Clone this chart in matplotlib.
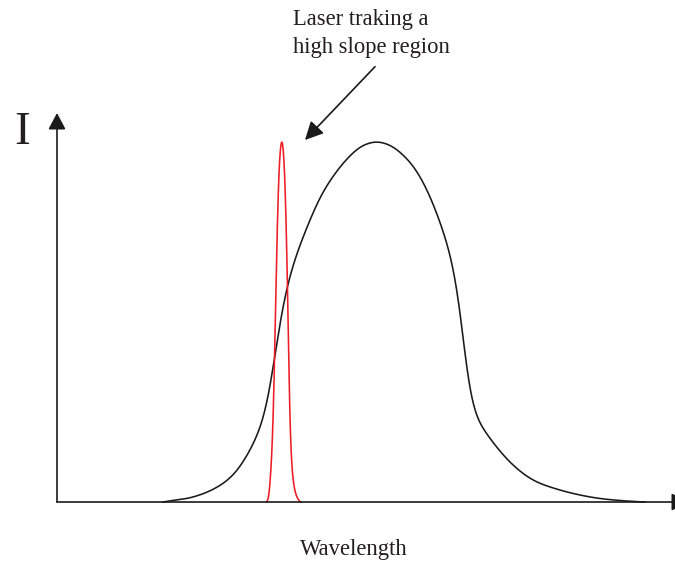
import numpy as np
import matplotlib
matplotlib.use("Agg")
import matplotlib.pyplot as plt
from matplotlib.patches import FancyArrowPatch

# ---- data (arbitrary units) ----
broad_x = [163, 170, 185, 200, 216.7, 233.3, 246.7, 256.7, 265, 270, 273.5, 278.3, 283.3,
           287.3, 295, 303.3, 320, 330, 350, 363.3, 376.7, 390, 403.3, 415, 430, 443.3,
           451.7, 456.7, 460.7, 463.3, 465.2, 468.3, 475, 486.7, 496.7, 510, 520, 535,
           553.3, 580, 600, 620, 645]
broad_I = [0, 1.2, 3.2, 7.2, 14.7, 27.5, 46.5, 67, 91, 114, 137, 170, 197,
           215, 242, 265, 304, 321, 346, 356.5, 360, 356.5, 346.5, 333, 305, 269,
           239, 215, 189, 165, 142, 119, 92, 69, 55, 40, 31, 21,
           14, 7, 3.5, 1.5, 0]

laser_x = [266.5, 268.5, 270, 273, 275.5, 278, 280, 281.8, 283.6, 285.5, 288, 290,
           293.5, 297, 301]
laser_I = [0, 5, 20, 80, 190, 300, 347, 360, 347, 300, 190, 80,
           20, 5, 0]

annotation = "Laser traking a\nhigh slope region"
xlabel = "Wavelength"
ylabel = "I"


def pchip(x, y, xs):
    x = np.asarray(x, float)
    y = np.asarray(y, float)
    h = np.diff(x)
    delta = np.diff(y) / h
    n = len(x)
    d = np.zeros(n)
    for k in range(1, n - 1):
        if delta[k - 1] * delta[k] > 0:
            w1 = 2 * h[k] + h[k - 1]
            w2 = h[k] + 2 * h[k - 1]
            d[k] = (w1 + w2) / (w1 / delta[k - 1] + w2 / delta[k])
    for (i, a, b, ha, hb) in [(0, delta[0], delta[1], h[0], h[1]),
                              (n - 1, delta[-1], delta[-2], h[-1], h[-2])]:
        v = ((2 * ha + hb) * a - ha * b) / (ha + hb)
        if np.sign(v) != np.sign(a):
            v = 0
        elif np.sign(a) != np.sign(b) and abs(v) > abs(3 * a):
            v = 3 * a
        d[i] = v
    idx = np.clip(np.searchsorted(x, xs) - 1, 0, n - 2)
    t = (xs - x[idx]) / h[idx]
    h00 = 2 * t ** 3 - 3 * t ** 2 + 1
    h10 = t ** 3 - 2 * t ** 2 + t
    h01 = -2 * t ** 3 + 3 * t ** 2
    h11 = t ** 3 - t ** 2
    return (h00 * y[idx] + h10 * h[idx] * d[idx] + h01 * y[idx + 1]
            + h11 * h[idx] * d[idx + 1])


def smooth_curve(x, y, step, lam):
    """Dense rendering: monotone cubic through the read points, lightly smoothed."""
    xs = np.arange(x[0], x[-1] + step / 2, step)
    ys = pchip(x, y, xs)
    n = len(xs)
    D = np.diff(np.eye(n), 2, axis=0)
    W = np.eye(n)
    W[0, 0] = W[-1, -1] = 1e4
    z = np.linalg.solve(W + lam * D.T @ D, W @ ys)
    return xs, np.maximum(z, 0)


fig = plt.figure(figsize=(6.75, 5.66), dpi=100)
ax = fig.add_axes([0, 0, 1, 1])
ax.set_xlim(0, 675)
ax.set_ylim(-64, 502)
ax.axis("off")

serif = ["Liberation Serif", "DejaVu Serif"]

bx, by = smooth_curve(broad_x, broad_I, 0.5, 4000)
ax.plot(bx, by, color="#1a1a1a", lw=1.15, zorder=3)
lx, ly = smooth_curve(laser_x, laser_I, 0.1, 3000)
ax.plot(lx, ly, color="#ee1c25", lw=1.15, zorder=4)

# axes with arrows
ax.add_patch(FancyArrowPatch((57, 0), (57, 389), arrowstyle="-|>,head_length=10,head_width=5.3",
                             mutation_scale=1, color="#1a1a1a", lw=1.2, shrinkA=0, shrinkB=0,
                             clip_on=False, zorder=5))
ax.add_patch(FancyArrowPatch((57, 0), (688, 0), arrowstyle="-|>,head_length=10,head_width=5.3",
                             mutation_scale=1, color="#1a1a1a", lw=1.2, shrinkA=0, shrinkB=0,
                             clip_on=False, zorder=5))

# annotation arrow
ax.add_patch(FancyArrowPatch((375, 502 - 66.7), (305, 502 - 140),
                             arrowstyle="-|>,head_length=11,head_width=5.5",
                             mutation_scale=1, color="#1a1a1a", lw=1.2, shrinkA=0, shrinkB=0,
                             zorder=5))

lines = annotation.split("\n")
ax.text(292.7, 502 - 25, lines[0], family=serif, fontsize=16.3, ha="left", va="baseline",
        color="#231f20")
ax.text(292.7, 502 - 52.7, lines[1], family=serif, fontsize=16.3, ha="left", va="baseline",
        color="#231f20")
ax.text(354, 502 - 555, xlabel, family=serif, fontsize=16.3, ha="center", va="baseline",
        color="#231f20")
ax.text(22, 502 - 144, ylabel, family=serif, fontsize=34, ha="center", va="baseline",
        color="#231f20")

fig.savefig("out.png", dpi=100)
